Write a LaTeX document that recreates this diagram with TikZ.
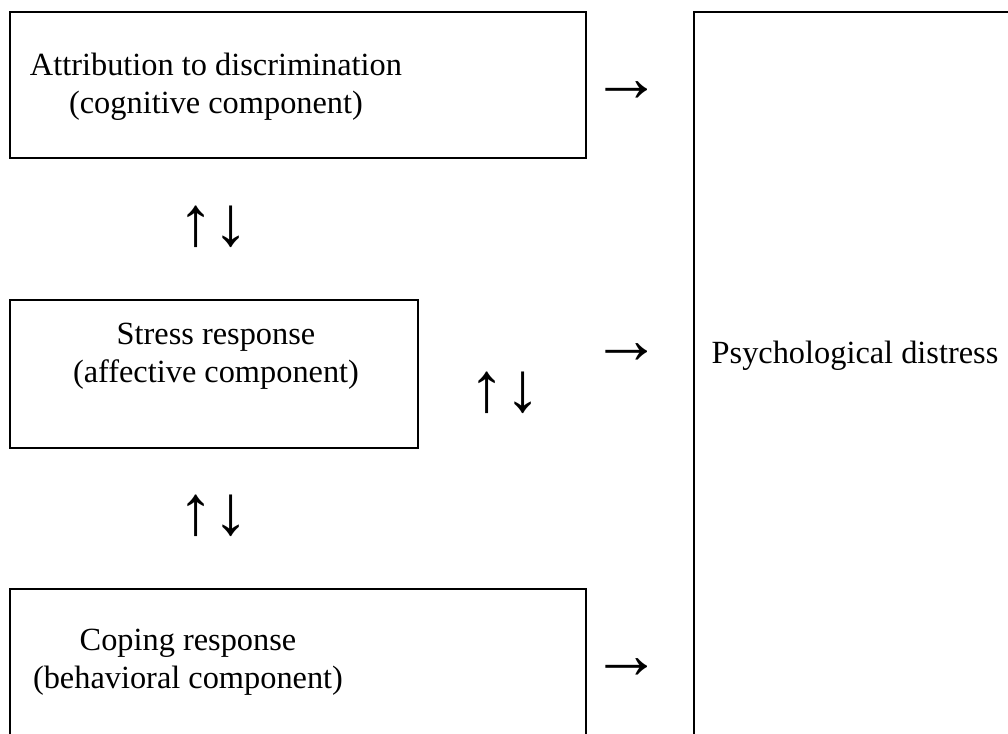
\documentclass[tikz,border=0pt]{standalone}
\usepackage{fontspec}
\setmainfont{Liberation Serif}

\begin{document}
\begin{tikzpicture}[x=0.01cm,y=-0.01cm,
    boxline/.style={line width=0.6pt},
    lbl/.style={align=center, inner sep=0pt, font=\fontsize{9.2}{10.8}\selectfont},
    arr/.style={inner sep=0pt, font=\fontsize{20}{20}\selectfont}]
    \useasboundingbox (0,0) rectangle (1008,734);
    \clip (0,0) rectangle (1008,734);

    % Cognitive component
    \draw[boxline] (10,12) rectangle (586,158);
    \node[lbl] (attr) at (216,87) {Attribution to discrimination\\(cognitive component)};

    % Affective component
    \draw[boxline] (10,300) rectangle (418,448);
    \node[lbl] (stress) at (216,356) {Stress response\\(affective component)};

    % Behavioral component
    \draw[boxline] (10,589) rectangle (586,760);
    \node[lbl] (coping) at (188,662) {Coping response\\(behavioral component)};

    % Outcome
    \draw[boxline] (694,12) rectangle (1030,760);
    \node[lbl, anchor=west] (distress) at (711,356) {Psychological distress};

    % Arrows between and beside the boxes
    \node[arr] (updownA) at (214,227) {↑↓};
    \node[arr] (updownB) at (214,516) {↑↓};
    \node[arr] (updownC) at (505,393) {↑↓};
    \node[arr] (toA) at (627,92) {→};
    \node[arr] (toB) at (627,354) {→};
    \node[arr] (toC) at (627,669) {→};
\end{tikzpicture}
\end{document}
